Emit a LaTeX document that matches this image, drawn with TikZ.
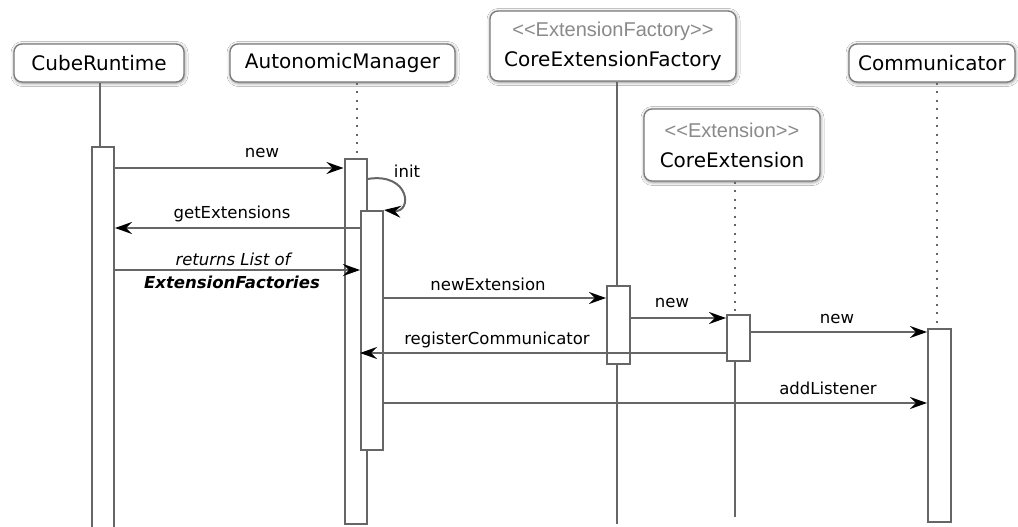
\documentclass[tikz,border=0pt]{standalone}
\usepackage{fontspec}
\setmainfont{DejaVu Sans}
\newfontfamily\stereo{Liberation Sans}
\usetikzlibrary{arrows.meta,shadows.blur}
\definecolor{lc}{HTML}{666666}
\definecolor{bc}{HTML}{7A7A7A}
\definecolor{sc}{HTML}{8A8A8A}
\begin{document}
\begin{tikzpicture}[x=1pt,y=-1pt,
  head/.style={draw=bc, line width=1.3pt, rounded corners=8pt, fill=white,
    blur shadow={shadow xshift=0.5pt, shadow yshift=-1pt, shadow blur radius=3.5pt, shadow opacity=50},
    inner sep=0pt, align=center, font=\fontsize{20}{30}\selectfont},
  act/.style={draw=lc, line width=2pt, fill=white, minimum width=22pt, inner sep=0pt},
  life/.style={draw=lc, line width=2pt},
  dotl/.style={draw=lc, line width=2pt, dash pattern=on 2pt off 6.5pt},
  msg/.style={draw=lc, line width=2pt, -{Stealth[length=17pt,width=12pt,inset=6pt,black]}},
  lbl/.style={font=\fontsize{16.5}{19}\selectfont, inner sep=0pt}]
\clip (0,0) rectangle (1018,527);
\fill[white] (0,0) rectangle (1018,527);

% heads
\node[head, minimum width=170pt, minimum height=38pt] (cr) at (99,63) {CubeRuntime};
\node[head, minimum width=225pt, minimum height=38pt] (am) at (342.5,63) {AutonomicManager};
\node[head, minimum width=246pt, minimum height=70pt] (cef) at (613,46)
  {{\stereo\color{sc}<\kern0pt<ExtensionFactory>\kern0pt>}\\CoreExtensionFactory};
\node[head, minimum width=176pt, minimum height=72pt] (ce) at (732,145)
  {{\stereo\color{sc}<\kern0pt<Extension>\kern0pt>}\\CoreExtension};
\node[head, minimum width=166pt, minimum height=38pt] (com) at (932,63) {Communicator};

% activation boxes
\node[act, minimum height=393pt] (a0) at (103,343.5) {};
\node[act, minimum height=365pt] (a1) at (355.5,341.5) {};
\node[act, minimum height=239pt] (a2) at (372,330.5) {};
\node[act, minimum height=78pt, minimum width=23pt] (f1) at (618.5,325) {};
\node[act, minimum height=46pt, minimum width=23pt] (e1) at (738.5,338) {};
\node[act, minimum height=193pt, minimum width=23pt] (c1) at (939.5,425.5) {};

% lifeline ends
\coordinate (fend) at (617,524);
\coordinate (eend) at (735,517);

% lifelines
\draw[life] (100,0 |- cr.south) -- (100,0 |- a0.north);
\draw[dotl] (357,0 |- am.south) -- (357,0 |- a1.north);
\draw[life] (617,0 |- cef.south) -- (617,0 |- f1.north);
\draw[life] (617,0 |- f1.south) -- (fend);
\draw[dotl] (735,0 |- ce.south) -- (735,0 |- e1.north);
\draw[life] (735,0 |- e1.south) -- (eend);
\draw[dotl] (937,0 |- com.south) -- (937,0 |- c1.north);

% messages
\draw[msg] (a0.east |- 0,168) -- (a1.west |- 0,168);
\node[lbl] (l1) at (262,153) {new};
\draw[msg] (a1.east |- 0,179) .. controls (410,172) and (413,213) .. (a2.north east);
\node[lbl] (l2) at (407,171) {init};
\draw[msg] (a2.west |- 0,228) -- (a0.east |- 0,228);
\node[lbl] (l3) at (232,214) {getExtensions};
\draw[msg] (a0.east |- 0,270) -- (a2.west |- 0,270);
\node[lbl] (l4) at (233,259) {\itshape returns List of};
\node[lbl] (l5) at (232,282) {\bfseries\itshape ExtensionFactories};
\draw[msg] (a2.east |- 0,298) -- (f1.west |- 0,298);
\node[lbl] (l6) at (488,284) {newExtension};
\draw[msg] (f1.east |- 0,318) -- (e1.west |- 0,318);
\node[lbl] (l7) at (672,303) {new};
\draw[msg] (e1.east |- 0,332) -- (c1.west |- 0,332);
\node[lbl] (l8) at (837,319) {new};
\draw[msg] (e1.west |- 0,353) -- (a2.west |- 0,353);
\node[lbl] (l9) at (497,340) {registerCommunicator};
\draw[msg] (a2.east |- 0,403) -- (c1.west |- 0,403);
\node[lbl] (l10) at (828,388) {addListener};
\end{tikzpicture}
\end{document}
